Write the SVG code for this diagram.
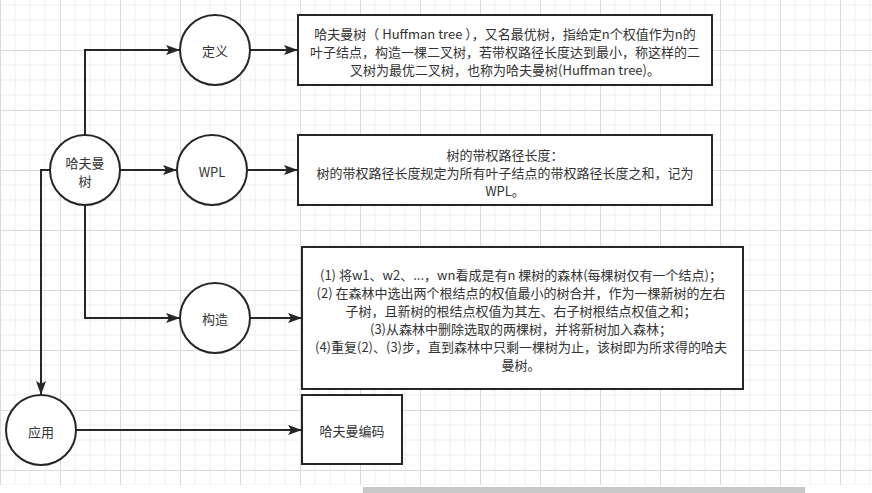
<svg xmlns="http://www.w3.org/2000/svg" width="872" height="493" viewBox="0 0 872 493">
<style>
.shape{fill:#ffffff;stroke:#262626;stroke-width:2}
.conn{fill:none;stroke:#262626;stroke-width:2}
text{font-family:"Noto Sans CJK SC","Microsoft YaHei",sans-serif;font-size:13px;fill:#333333;text-anchor:middle;dominant-baseline:central}
</style>
<defs>
<pattern id="grid" patternUnits="userSpaceOnUse" x="0" y="50" width="60" height="60">
<path d="M15,0V60M30,0V60M45,0V60M0,15H60M0,30H60M0,45H60" stroke="#efefef" stroke-width="1" fill="none"/>
<path d="M0.5,0V60M0,0.5H60" stroke="#dadada" stroke-width="1" fill="none"/>
</pattern>
<marker id="arrow" markerUnits="userSpaceOnUse" markerWidth="14" markerHeight="10" refX="14" refY="5" orient="auto">
<path d="M0,0 L14,5 L0,10 L3,5 Z" fill="#262626"/>
</marker>
</defs>
<rect x="0" y="0" width="872" height="493" fill="#ffffff"/>
<rect x="0" y="0" width="872" height="485" fill="url(#grid)"/>
<rect x="363" y="487" width="442" height="6" fill="#c8c8c8"/>
<g id="connectors">
<path class="conn" d="M85,135 V50 H180" marker-end="url(#arrow)"/>
<path class="conn" d="M120,170 H177" marker-end="url(#arrow)"/>
<path class="conn" d="M85,205 V318 H180" marker-end="url(#arrow)"/>
<path class="conn" d="M50,170 H41 V395" marker-end="url(#arrow)"/>
<path class="conn" d="M250,50 H298" marker-end="url(#arrow)"/>
<path class="conn" d="M247,170 H298" marker-end="url(#arrow)"/>
<path class="conn" d="M250,318 H302" marker-end="url(#arrow)"/>
<path class="conn" d="M76,430 H302" marker-end="url(#arrow)"/>
</g>
<g id="huffman">
<circle class="shape" cx="85" cy="170" r="35"/>
<text x="85" y="162">哈夫曼</text>
<text x="85" y="180">树</text>
</g>
<g id="def">
<circle class="shape" cx="215" cy="50" r="35"/>
<text x="215" y="50">定义</text>
</g>
<g id="wpl">
<circle class="shape" cx="212" cy="170" r="35"/>
<text x="212" y="171">WPL</text>
</g>
<g id="build">
<circle class="shape" cx="215" cy="318" r="35"/>
<text x="215" y="318">构造</text>
</g>
<g id="apply">
<circle class="shape" cx="41" cy="430" r="35"/>
<text x="41" y="431">应用</text>
</g>
<g id="defbox">
<rect class="shape" x="298" y="15" width="414" height="70"/>
<text x="505" y="33">哈夫曼树（ Huffman tree ），又名最优树，指给定n个权值作为n的</text>
<text x="505" y="51">叶子结点，构造一棵二叉树，若带权路径长度达到最小，称这样的二</text>
<text x="505" y="69">叉树为最优二叉树，也称为哈夫曼树(Huffman tree)。</text>
</g>
<g id="wplbox">
<rect class="shape" x="298" y="135" width="414" height="70"/>
<text x="505" y="154">树的带权路径长度：</text>
<text x="505" y="172">树的带权路径长度规定为所有叶子结点的带权路径长度之和，记为</text>
<text x="505" y="190">WPL。</text>
</g>
<g id="buildbox">
<rect class="shape" x="302" y="247" width="441" height="142"/>
<text x="521" y="274">(1) 将w1、w2、...，wn看成是有n 棵树的森林(每棵树仅有一个结点)；</text>
<text x="521" y="292">(2) 在森林中选出两个根结点的权值最小的树合并，作为一棵新树的左右</text>
<text x="521" y="310">子树，且新树的根结点权值为其左、右子树根结点权值之和；</text>
<text x="521" y="328">(3)从森林中删除选取的两棵树，并将新树加入森林；</text>
<text x="521" y="346">(4)重复(2)、(3)步，直到森林中只剩一棵树为止，该树即为所求得的哈夫</text>
<text x="521" y="364">曼树。</text>
</g>
<g id="codebox">
<rect class="shape" x="302" y="395" width="100" height="69"/>
<text x="352" y="430">哈夫曼编码</text>
</g>
</svg>
